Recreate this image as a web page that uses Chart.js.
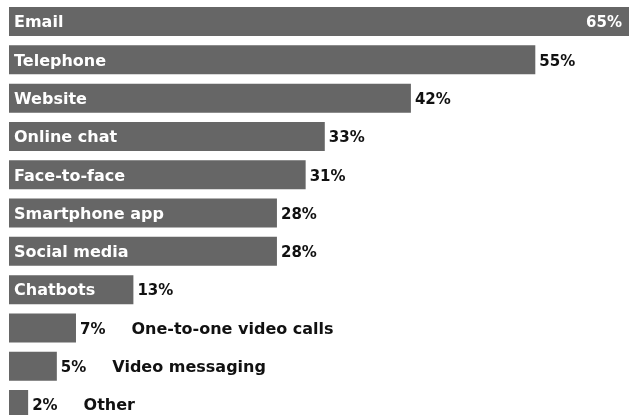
<!DOCTYPE html>
<html>
<head>
<meta charset="utf-8">
<script src="https://cdn.jsdelivr.net/npm/chart.js@4/dist/chart.umd.min.js"></script>
<style>
  html, body { margin: 0; padding: 0; background: #ffffff; overflow: hidden; }
  #wrap { position: relative; width: 631px; height: 426px; }
</style>
</head>
<body>
<div id="wrap"><canvas id="c"></canvas></div>
<script>
const categories = ['Email', 'Telephone', 'Website', 'Online chat', 'Face-to-face', 'Smartphone app', 'Social media', 'Chatbots', 'One-to-one video calls', 'Video messaging', 'Other'];
const values = [65, 55, 42, 33, 31, 28, 28, 13, 7, 5, 2];
const valueLabels = values.map(v => v + '%');

const FONT = 'bold 16px "DejaVu Sans"';
const PCT_FONT = 'bold 15px "DejaVu Sans"';

const labelPlugin = {
  id: 'barLabels',
  afterDatasetsDraw(chart) {
    const ctx = chart.ctx;
    const meta = chart.getDatasetMeta(0);
    const area = chart.chartArea;
    ctx.save();
    ctx.textBaseline = 'alphabetic';
    meta.data.forEach((bar, i) => {
      const left = bar.base;
      const right = bar.x;
      const yc = bar.y;
      const base = yc + 5.8;
      ctx.font = FONT;
      const nameW = ctx.measureText(categories[i]).width;
      ctx.font = PCT_FONT;
      const pctW = ctx.measureText(valueLabels[i]).width;
      const nameInside = (right - left) > nameW + 12;
      const pctOutside = right + 5 + pctW <= area.right - 2;
      if (nameInside) {
        ctx.font = FONT;
        ctx.fillStyle = '#ffffff';
        ctx.textAlign = 'left';
        ctx.fillText(categories[i], left + 5, base);
      }
      ctx.font = PCT_FONT;
      let pctEnd;
      if (pctOutside) {
        ctx.fillStyle = '#111111';
        ctx.textAlign = 'left';
        ctx.fillText(valueLabels[i], right + 4, base);
        pctEnd = right + 4 + pctW;
      } else {
        ctx.fillStyle = '#ffffff';
        ctx.textAlign = 'right';
        ctx.fillText(valueLabels[i], Math.min(right, 629) - 7, base);
        pctEnd = right;
      }
      if (!nameInside) {
        ctx.font = FONT;
        ctx.fillStyle = '#111111';
        ctx.textAlign = 'left';
        ctx.fillText(categories[i], pctEnd + 26, base);
      }
    });
    ctx.restore();
  }
};

new Chart(document.getElementById('c'), {
  type: 'bar',
  data: {
    labels: categories,
    datasets: [{
      data: values,
      backgroundColor: '#666666',
      borderWidth: 0,
      categoryPercentage: 1.0,
      barPercentage: 0.757
    }]
  },
  options: {
    indexAxis: 'y',
    responsive: true,
    maintainAspectRatio: false,
    animation: false,
    events: [],
    layout: { padding: { left: 9, right: 0, top: 2.4, bottom: 2.3 } },
    scales: {
      x: { display: false, min: 0, max: 65 },
      y: { display: false }
    },
    plugins: {
      legend: { display: false },
      tooltip: { enabled: false }
    }
  },
  plugins: [labelPlugin]
});
</script>
</body>
</html>
